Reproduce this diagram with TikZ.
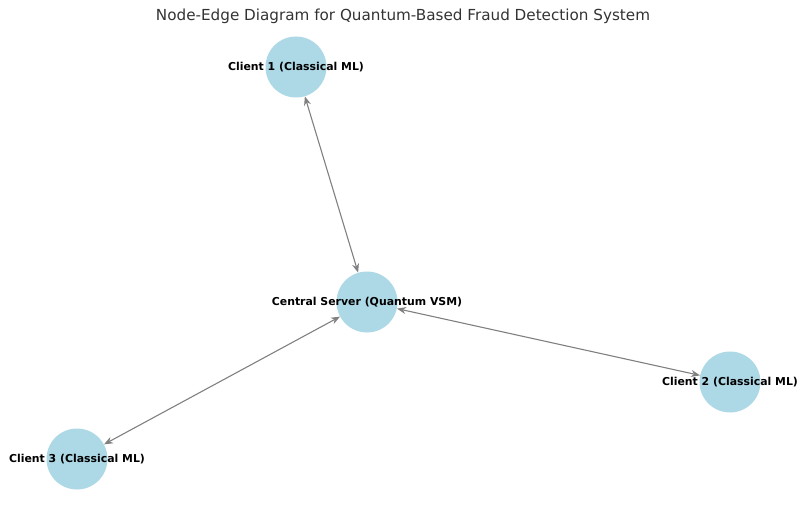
\documentclass[tikz,border=0pt]{standalone}
\usepackage{fontspec}
\setmainfont{DejaVu Sans}
\usetikzlibrary{arrows.meta}
\definecolor{nodeblue}{RGB}{173,216,230}
\definecolor{edgegray}{RGB}{128,128,128}
\definecolor{titlegray}{RGB}{51,51,51}

\begin{document}
\begin{tikzpicture}[x=1pt, y=-1pt,
        station/.style={circle, fill=nodeblue, minimum size=61pt, inner sep=0pt},
        tag/.style={font=\fontsize{10.9}{13}\selectfont\bfseries, inner sep=0pt},
        link/.style={{Stealth[length=9pt,width=7pt]}-{Stealth[length=9pt,width=7pt]}, edgegray, line width=1.1pt}
    ]
    \useasboundingbox (0,0) rectangle (806,508);

    % title
    \node[text=titlegray, font=\fontsize{15.2}{18}\selectfont] (title) at (403,16) {Node-Edge Diagram for Quantum-Based Fraud Detection System};

    % stations
    \node[station] (server) at (367,302) {};
    \node[station] (client1) at (296,67) {};
    \node[station] (client2) at (730,382) {};
    \node[station] (client3) at (77,459) {};

    % links
    \draw[link] (client1) -- (server);
    \draw[link] (server) -- (client2);
    \draw[link] (server) -- (client3);

    % labels
    \node[tag] at (server) {Central Server (Quantum VSM)};
    \node[tag] at (client1) {Client 1 (Classical ML)};
    \node[tag] at (client2) {Client 2 (Classical ML)};
    \node[tag] at (client3) {Client 3 (Classical ML)};
\end{tikzpicture}
\end{document}
